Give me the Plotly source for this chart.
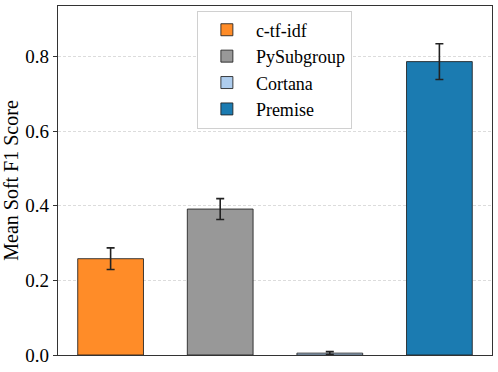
import plotly.graph_objects as go

methods = ["c-tf-idf", "PySubgroup", "Cortana", "Premise"]
mean_f1 = [0.258, 0.391, 0.005, 0.786]
err_f1 = [0.029, 0.028, 0.004, 0.048]
colors = ["#FF8C28", "#989898", "#AECDEE", "#1B7BB1"]

FONT = "Liberation Serif"

fig = go.Figure()
for i, (name, m, e, c) in enumerate(zip(methods, mean_f1, err_f1, colors)):
    fig.add_trace(go.Bar(
        x=[i], y=[m], name=name, width=0.6,
        marker=dict(color=c, line=dict(color="rgba(30,30,30,0.85)", width=1)),
        error_y=dict(type="data", array=[e], color="#222222", thickness=1.6, width=4),
    ))

fig.update_layout(
    width=498, height=372,
    barmode="overlay",
    paper_bgcolor="white", plot_bgcolor="white",
    margin=dict(l=58, r=6, t=6, b=17),
    font=dict(family=FONT, size=19, color="black"),
    showlegend=True,
    legend=dict(
        x=0.32, y=0.987, xanchor="left", yanchor="top",
        bgcolor="white", bordercolor="#D0D0D0", borderwidth=1,
        font=dict(family=FONT, size=18),
        tracegroupgap=0, itemwidth=48,
    ),
)
fig.update_xaxes(
    range=[-0.48, 3.48], showticklabels=False, ticks="", showgrid=False, automargin=False,
    showline=True, linecolor="#333333", linewidth=1.2, mirror=True, zeroline=False,
)
fig.update_yaxes(
    range=[0, 0.935], tickvals=[0, 0.2, 0.4, 0.6, 0.8], tickformat=".1f", automargin=False,
    ticks="outside", ticklen=4, tickcolor="#333333",
    showgrid=True, gridcolor="#DCDCDC", griddash="3px,2px", gridwidth=0.8,
    showline=True, linecolor="#333333", linewidth=1.2, mirror=True, zeroline=False,
    title=dict(text="Mean Soft F1 Score", font=dict(family=FONT, size=20), standoff=6),
)

# page has an 8px body margin by default; drop it so the figure sits at the corner
fig.write_html("out.html", config={"displayModeBar": False},
               post_script="document.body.style.margin='0';")
